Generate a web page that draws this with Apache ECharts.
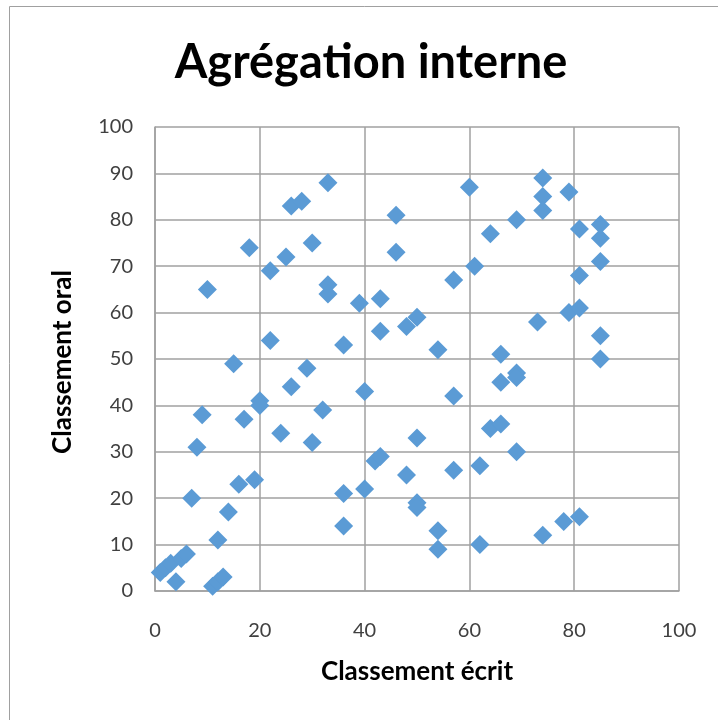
<!DOCTYPE html>
<html>
<head>
<meta charset="utf-8">
<script src="https://cdn.jsdelivr.net/npm/echarts@6/dist/echarts.min.js"></script>
<style>
html,body{margin:0;padding:0;background:#fff;}
#c{width:718px;height:720px;}
</style>
</head>
<body>
<div id="c"></div>
<script>
var titleText = 'Agrégation interne';
var xAxisName = 'Classement écrit';
var yAxisName = 'Classement oral';
var xTicks = [0, 20, 40, 60, 80, 100];
var yTicks = [0, 10, 20, 30, 40, 50, 60, 70, 80, 90, 100];
// Classement écrit (x) and Classement oral (y)
var ecrit = [1, 2, 3, 5, 6, 4, 11, 12, 13, 12, 14, 7, 8, 9, 10, 15, 16, 19, 17, 18, 20, 20, 22, 22, 24, 25, 26, 26, 28, 29, 30, 30, 32, 33, 33, 33, 36, 36, 36, 39, 40, 40, 42, 43, 43, 43, 46, 46, 48, 48, 50, 50, 50, 50, 54, 54, 54, 57, 57, 57, 60, 61, 62, 62, 64, 64, 66, 66, 66, 69, 69, 69, 69, 73, 74, 74, 74, 74, 78, 79, 79, 81, 81, 81, 81, 85, 85, 85, 85, 85];
var oral  = [4, 5, 6, 7, 8, 2, 1, 2, 3, 11, 17, 20, 31, 38, 65, 49, 23, 24, 37, 74, 41, 40, 54, 69, 34, 72, 83, 44, 84, 48, 75, 32, 39, 88, 66, 64, 53, 21, 14, 62, 43, 22, 28, 29, 56, 63, 81, 73, 57, 25, 59, 33, 19, 18, 52, 13, 9, 67, 42, 26, 87, 70, 27, 10, 77, 35, 51, 45, 36, 80, 47, 46, 30, 58, 89, 85, 82, 12, 15, 86, 60, 78, 68, 61, 16, 79, 76, 71, 55, 50];

var pts = ecrit.map(function (x, i) { return [x, oral[i]]; });
var chart = echarts.init(document.getElementById('c'), null, {renderer: 'canvas'});
var font = 'Lato, "Open Sans", sans-serif';
chart.setOption({
  animation: false,
  backgroundColor: '#fff',
  grid: {left: 155, right: 39, top: 127, bottom: 129},
  xAxis: {
    type: 'value', min: xTicks[0], max: xTicks[xTicks.length - 1], interval: 20,
    axisLine: {show: true, lineStyle: {color: '#a0a0a0', width: 1.5}},
    axisTick: {show: false},
    splitLine: {show: true, lineStyle: {color: '#a0a0a0', width: 1.5}},
    axisLabel: {color: '#404040', fontSize: 20, fontFamily: font, margin: 30}
  },
  yAxis: {
    type: 'value', min: yTicks[0], max: yTicks[yTicks.length - 1], interval: 10,
    axisLine: {show: true, lineStyle: {color: '#a0a0a0', width: 1.5}},
    axisTick: {show: false},
    splitLine: {show: true, lineStyle: {color: '#a0a0a0', width: 1.5}},
    axisLabel: {color: '#404040', fontSize: 20, fontFamily: font, margin: 22}
  },
  graphic: [
    {type: 'rect', shape: {x: 9.5, y: 6.5, width: 760, height: 760}, style: {fill: 'none', stroke: '#a0a0a0', lineWidth: 1}, silent: true, z: -1},
    {type: 'text', x: 371, y: 63, style: {text: titleText, fontSize: 47, fontWeight: 'bold', fontFamily: font, fill: '#000', textAlign: 'center', textVerticalAlign: 'middle'}},
    {type: 'text', x: 417, y: 672, style: {text: xAxisName, fontSize: 26, fontWeight: 'bold', fontFamily: font, fill: '#000', textAlign: 'center', textVerticalAlign: 'middle'}},
    {type: 'text', x: 63, y: 362, rotation: Math.PI / 2, style: {text: yAxisName, fontSize: 26, fontWeight: 'bold', fontFamily: font, fill: '#000', textAlign: 'center', textVerticalAlign: 'middle'}}
  ],
  series: [{
    type: 'scatter',
    data: pts,
    symbol: 'diamond',
    symbolSize: [19, 19],
    itemStyle: {color: '#5b9bd5', opacity: 1}
  }]
});
</script>
</body>
</html>
